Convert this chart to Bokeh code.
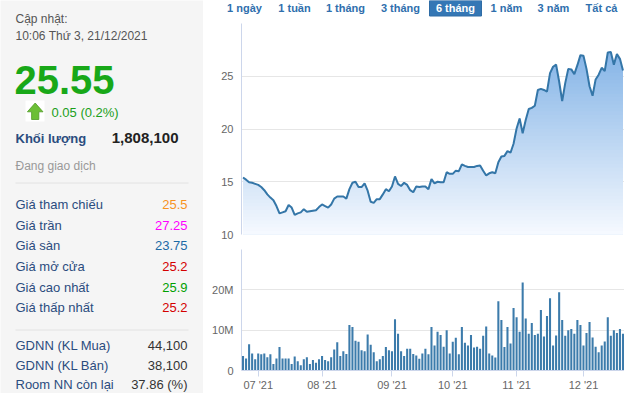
from bokeh.plotting import figure
from bokeh.layouts import row, column
from bokeh.models import Range1d, FixedTicker
from bokeh.core.properties import value
from bokeh.embed import file_html
from bokeh.resources import INLINE

FONT = "Liberation Sans"

# ---------------- data ----------------
price = [15.4, 15.2, 14.95, 14.9, 14.8, 14.7, 14.5, 14.2, 13.8, 13.5,
         13.25, 12.7, 12.0, 12.1, 12.2, 12.8, 12.55, 11.85, 12.0, 12.1,
         12.4, 12.15, 12.2, 12.25, 12.3, 12.6, 12.85, 12.7, 12.55, 12.85,
         13.4, 13.6, 13.6, 13.6, 13.4, 14.3, 14.9, 15.0, 14.5, 14.5,
         14.85, 14.15, 13.1, 13.0, 13.35, 13.35, 13.8, 14.3, 14.1, 14.55,
         15.5, 14.8, 14.6, 14.9, 14.7, 14.2, 14.0, 14.55, 14.5, 14.55,
         14.55, 14.3, 15.25, 14.85, 15.0, 14.95, 14.95, 15.9, 15.75, 15.75,
         16.05, 16.0, 16.65, 16.5, 16.4, 16.4, 16.4, 16.5, 16.55, 16.05,
         15.6, 15.8, 15.9, 15.8, 16.85, 17.4, 17.45, 17.9, 17.75, 18.6,
         20.05, 21.0, 19.6, 20.85, 21.9, 22.0, 22.2, 23.7, 23.8, 23.7,
         23.55, 25.3, 25.9, 26.1, 24.5, 22.65, 24.35, 25.7, 25.65, 25.2,
         26.05, 27.0, 26.95, 25.7, 24.05, 23.15, 24.7, 25.15, 25.8, 25.5,
         27.25, 27.3, 26.1, 27.1, 26.65, 25.55]

volume_m = [3.6, 3.0, 6.5, 4.2, 2.8, 4.2, 4.0, 4.2, 3.3, 4.0,
            1.6, 3.0, 5.8, 3.0, 3.0, 3.0, 1.6, 3.5, 2.3, 1.3,
            2.8, 3.3, 1.6, 2.6, 1.9, 2.8, 3.6, 2.6, 2.3, 3.3,
            5.2, 7.0, 3.6, 4.8, 4.1, 11.3, 10.8, 7.4, 7.1, 5.0,
            4.8, 8.9, 6.4, 4.5, 2.3, 2.8, 3.6, 5.8, 5.0, 4.8,
            12.7, 9.1, 4.8, 3.6, 5.4, 5.4, 4.1, 3.7, 2.9, 4.2,
            5.4, 4.0, 10.8, 6.2, 9.6, 8.8, 5.9, 10.0, 4.2, 7.1,
            8.1, 4.0, 10.8, 6.9, 6.2, 8.8, 5.7, 5.9, 5.4, 8.6,
            10.9, 4.2, 3.7, 3.2, 17.2, 12.5, 5.8, 10.8, 6.7, 15.5,
            13.2, 9.6, 21.8, 12.9, 9.1, 11.8, 8.8, 9.1, 15.0, 8.4,
            13.5, 17.9, 6.2, 8.7, 19.4, 12.5, 8.6, 10.0, 10.3, 9.1,
            12.5, 11.3, 6.2, 9.3, 12.0, 8.2, 5.9, 4.5, 6.2, 7.2,
            13.2, 8.6, 10.0, 9.3, 10.3, 9.1]

month_ticks = [5, 26, 49, 69, 90, 112]
month_labels = ["07 '21", "08 '21", "09 '21", "10 '21", "11 '21", "12 '21"]
price_ticks = [10, 15, 20, 25, 30]
price_tick_labels = ["10", "15", "20", "25", ""]
volume_ticks = [0, 10, 20, 30]
volume_tick_labels = ["0", "10M", "20M", ""]

range_buttons = ["1 ngày", "1 tuần", "1 tháng", "3 tháng", "6 tháng", "1 năm", "3 năm", "Tất cả"]
selected_button = "6 tháng"

update_label = "Cập nhật:"
update_time = "10:06 Thứ 3, 21/12/2021"
last_price = "25.55"
change_text = "0.05 (0.2%)"
volume_label = "Khối lượng"
volume_text = "1,808,100"
status_text = "Đang giao dịch"
stat_labels = ["Giá tham chiếu", "Giá trần", "Giá sàn", "Giá mở cửa", "Giá cao nhất", "Giá thấp nhất"]
stat_values = ["25.5", "27.25", "23.75", "25.2", "25.9", "25.2"]
foreign_labels = ["GDNN (KL Mua)", "GDNN (KL Bán)", "Room NN còn lại"]
foreign_values = ["44,100", "38,100", "37.86 (%)"]

# ---------------- styles / layout ----------------
stat_colors = ["#f7931e", "#ff00ff", "#1d6aa5", "#d40000", "#00a000", "#d40000"]
label_blue = "#2b4c7e"
n = len(price)
idx = list(range(n))

TOTAL_W, TOTAL_H = 624, 393
LEFT_W = 203
RIGHT_W = TOTAL_W - LEFT_W
AXIS_W = 38
BTN_H = 23
PRICE_H = 218
VOL_H = TOTAL_H - BTN_H - PRICE_H
DY = 6  # vertical shift of the hand-placed texts


def bare(w, h, xr, yr, bg):
    f = figure(width=w, height=h, x_range=xr, y_range=yr, output_backend="svg",
               toolbar_location=None, x_axis_location=None, y_axis_location=None,
               min_border=0, min_border_left=0, min_border_right=0,
               min_border_top=0, min_border_bottom=0,
               background_fill_color=bg, border_fill_color=bg, outline_line_color=None)
    f.grid.visible = False
    f.frame_align = False
    return f


def txt(f, x, y, s, size, color, bold=False, align="left", dy=DY):
    f.text(x=[x], y=[y - dy], text=[s], text_font=value(FONT), text_font_size=value(size),
           text_color=color, text_font_style="bold" if bold else "normal",
           text_align=align, text_baseline="middle")


# ---------------- left info panel ----------------
lf = bare(LEFT_W, TOTAL_H, Range1d(0, LEFT_W), Range1d(TOTAL_H, 0), "#f5f5f5")
txt(lf, 15, 24.5, update_label, "12px", "#555555")
txt(lf, 15, 41, update_time, "12px", "#555555")
txt(lf, 14, 85, last_price, "40px", "#18a818", bold=True)
lf.quad(left=[25], right=[44], top=[106 - DY], bottom=[127 - DY], fill_color="white", line_color=None)
lf.patch(x=[34.7, 42.5, 38.3, 38.3, 31.1, 31.1, 26.9],
         y=[v - DY for v in [108.5, 117.3, 117.3, 125, 125, 117.3, 117.3]],
         fill_color="#6cbf36", line_color="#4f9a26", line_width=0.8)
txt(lf, 51, 117.5, change_text, "13px", "#1a9f1a")
txt(lf, 15, 144, volume_label, "13px", label_blue, bold=True)
txt(lf, 178, 143, volume_text, "15px", "#222222", bold=True, align="right")
txt(lf, 15, 171, status_text, "12px", "#999999")
lf.segment(x0=[15], y0=[188.5 - DY], x1=[188], y1=[188.5 - DY], line_color="#e2e2e2", line_width=1)
row_y = [210, 230.7, 251.3, 272, 292.5, 313.3]
for yy, lab, val, col in zip(row_y, stat_labels, stat_values, stat_colors):
    txt(lf, 15, yy, lab, "13px", label_blue)
    txt(lf, 187, yy, val, "13px", col, align="right")
lf.segment(x0=[15], y0=[335.5 - DY], x1=[188], y1=[335.5 - DY], line_color="#e2e2e2", line_width=1)
frow_y = [350.5, 370.5, 390.0]
for yy, lab, val in zip(frow_y, foreign_labels, foreign_values):
    txt(lf, 15, yy, lab, "13px", label_blue)
    txt(lf, 187, yy, val, "13px", "#333333", align="right")

# ---------------- range buttons (canvas-pixel coordinates) ----------------
bf = bare(RIGHT_W, BTN_H, Range1d(LEFT_W, TOTAL_W), Range1d(BTN_H, 0), "white")
btn_x = [244, 294, 345, 400, 455, 506, 553, 601]
for bx, lab in zip(btn_x, range_buttons):
    if lab == selected_button:
        bf.quad(left=[bx - 26], right=[bx + 26], top=[0], bottom=[15.5],
                fill_color="#3477b5", line_color="#2f6ca5")
        col = "white"
    else:
        col = "#2f6fad"
    txt(bf, bx, 7.8, lab, "11px", col, bold=True, align="center", dy=0)

# ---------------- price chart ----------------
xr = Range1d(-0.5, n - 0.5)
pf = figure(width=RIGHT_W, height=PRICE_H, x_range=xr, y_range=Range1d(10, 30),
            output_backend="svg", toolbar_location=None, x_axis_location=None,
            min_border_left=AXIS_W, min_border_right=0, min_border_top=0, min_border_bottom=7,
            outline_line_color=None, background_fill_color="white", border_fill_color="white")
pf.xgrid.visible = False
pf.ygrid.ticker = FixedTicker(ticks=price_ticks)
pf.ygrid.grid_line_color = "#e6e6e6"

top_rgb = (116, 170, 227)
bot_rgb = (247, 250, 255)
layers = 60
ymin, ymax = 10.0, 30.0
for k in range(layers, 0, -1):
    b = ymin + (ymax - ymin) * k / layers
    t = (b - ymin) / (ymax - ymin)
    c = tuple(int(round(bot_rgb[i] + (top_rgb[i] - bot_rgb[i]) * t)) for i in range(3))
    pf.varea(x=idx, y1=[ymin] * n, y2=[min(v, b) for v in price],
             fill_color="#%02x%02x%02x" % c)
pf.line(idx, price, line_color="#3476a8", line_width=2)

ya = pf.yaxis[0]
ya.ticker = FixedTicker(ticks=price_ticks)
ya.major_label_overrides = dict(zip(price_ticks, price_tick_labels))

# ---------------- volume chart ----------------
vf = figure(width=RIGHT_W, height=VOL_H, x_range=xr, y_range=Range1d(0, 30),
            output_backend="svg", toolbar_location=None,
            min_border_left=AXIS_W, min_border_right=0, min_border_top=8, min_border_bottom=21,
            outline_line_color=None, background_fill_color="white", border_fill_color="white")
vf.xgrid.visible = False
vf.ygrid.ticker = FixedTicker(ticks=volume_ticks[1:])
vf.ygrid.grid_line_color = "#e6e6e6"
vf.vbar(x=idx, top=volume_m, bottom=0, width=0.68, fill_color="#3c7bab", line_color=None)

va = vf.yaxis[0]
va.ticker = FixedTicker(ticks=volume_ticks)
va.major_label_overrides = dict(zip(volume_ticks, volume_tick_labels))

xa = vf.xaxis[0]
xa.ticker = FixedTicker(ticks=month_ticks)
xa.major_label_overrides = dict(zip(month_ticks, month_labels))
xa.major_tick_out = 6
xa.major_tick_in = 0
xa.major_tick_line_color = "#ccd6eb"
xa.minor_tick_line_color = None
xa.axis_line_color = "#ccd6eb"
xa.major_label_standoff = 2
xa.major_label_text_color = "#666666"
xa.major_label_text_font = FONT
xa.major_label_text_font_size = "11px"

for a in (ya, va):
    a.axis_line_color = "#ccd6eb"
    a.major_tick_line_color = None
    a.minor_tick_line_color = None
    a.major_tick_out = 0
    a.major_tick_in = 0
    a.major_label_standoff = 8
    a.major_label_text_color = "#666666"
    a.major_label_text_font = FONT
    a.major_label_text_font_size = "11px"
    a.major_label_text_baseline = "bottom"

layout = row(lf, column(bf, pf, vf, spacing=0), spacing=0)
open("out.html", "w").write(file_html(layout, INLINE))
